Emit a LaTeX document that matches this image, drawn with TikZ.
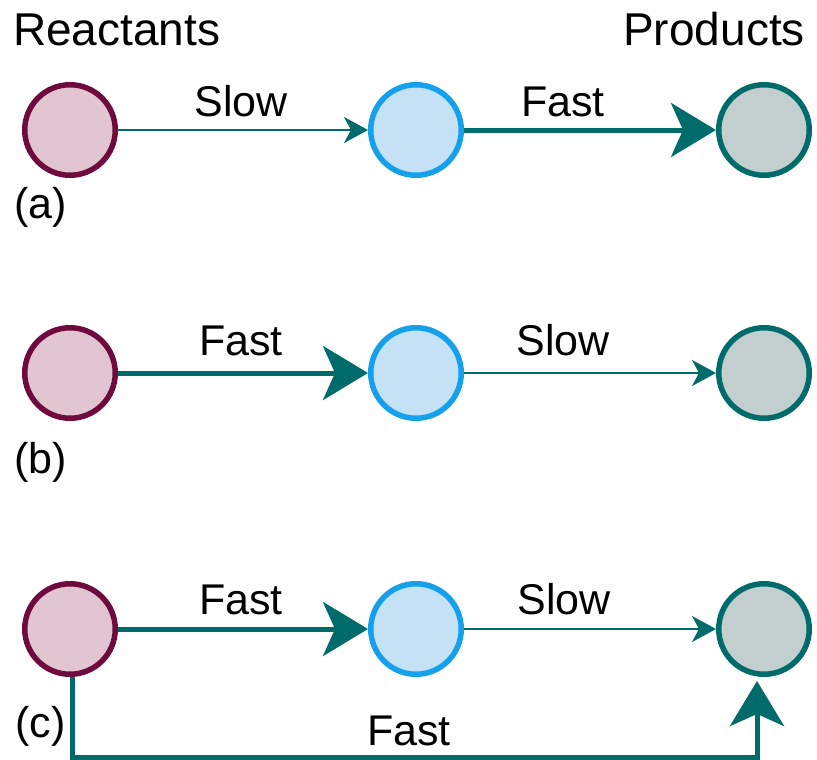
\documentclass[tikz,border=0pt]{standalone}
\usepackage{fontspec}
\setmainfont{Liberation Sans}
\usetikzlibrary{arrows.meta}

\definecolor{reactEdge}{HTML}{6E0A3E}
\definecolor{reactFill}{HTML}{E1C5D0}
\definecolor{midEdge}{HTML}{14A0EA}
\definecolor{midFill}{HTML}{C4E1F6}
\definecolor{prodEdge}{HTML}{006B6B}
\definecolor{prodFill}{HTML}{C3CFCE}
\definecolor{flow}{HTML}{006B6B}

\begin{document}
\begin{tikzpicture}[x=1pt,y=-1pt,
  species/.style={circle,line width=5.5pt,minimum size=90.5pt,inner sep=0pt},
  reactant/.style={species,draw=reactEdge,fill=reactFill},
  intermediate/.style={species,draw=midEdge,fill=midFill},
  product/.style={species,draw=prodEdge,fill=prodFill},
  slowstep/.style={draw=flow,line width=2.2pt,-{Stealth[length=24pt,width=26pt,inset=7pt]}},
  faststep/.style={draw=flow,line width=5pt,-{Stealth[length=45pt,width=54pt,inset=12pt]}},
  lbl/.style={font=\fontsize{43}{43}\selectfont,inner sep=0pt,anchor=base},
  heading/.style={font=\fontsize{46}{46}\selectfont,inner sep=0pt}
]
\useasboundingbox (0,0) rectangle (817,760);

% headings
\node[heading,anchor=base west] (hreact) at (13,46) {Reactants};
\node[heading,anchor=base east] (hprod) at (805,46) {Products};

% (a) slow first step, fast second step
\node[reactant] (a1) at (70,130) {};
\node[intermediate] (a2) at (416,130) {};
\node[product] (a3) at (764,130) {};
\draw[slowstep] (a1) -- (a2);
\draw[faststep] (a2) -- (a3);
\node[lbl] (aslow) at (241,117) {Slow};
\node[lbl] (afast) at (563,117) {Fast};
\node[lbl,anchor=base west] (alab) at (14,218) {(a)};

% (b) fast first step, slow second step
\node[reactant] (b1) at (70,373) {};
\node[intermediate] (b2) at (416,373) {};
\node[product] (b3) at (764,373) {};
\draw[faststep] (b1) -- (b2);
\draw[slowstep] (b2) -- (b3);
\node[lbl] (bfast) at (241,355) {Fast};
\node[lbl] (bslow) at (563,355) {Slow};
\node[lbl,anchor=base west] (blab) at (14,473) {(b)};

% (c) as (b), plus a fast direct route
\node[reactant] (c1) at (70,629) {};
\node[intermediate] (c2) at (416,629) {};
\node[product] (c3) at (764,629) {};
\draw[faststep] (c1) -- (c2);
\draw[slowstep] (c2) -- (c3);
\node[lbl] (cfast) at (241,614) {Fast};
\node[lbl] (cslow) at (564,614) {Slow};
\node[lbl,anchor=base west] (clab) at (15,737) {(c)};

\coordinate (loopL) at (72,757);
\coordinate (loopR) at (757,757);
\draw[faststep,shorten >=4pt] ([xshift=2pt]c1.south) -- (loopL) -- (loopR) -- ([xshift=-7pt]c3.south);
\node[lbl] (dfast) at (409,745) {Fast};
\end{tikzpicture}
\end{document}
